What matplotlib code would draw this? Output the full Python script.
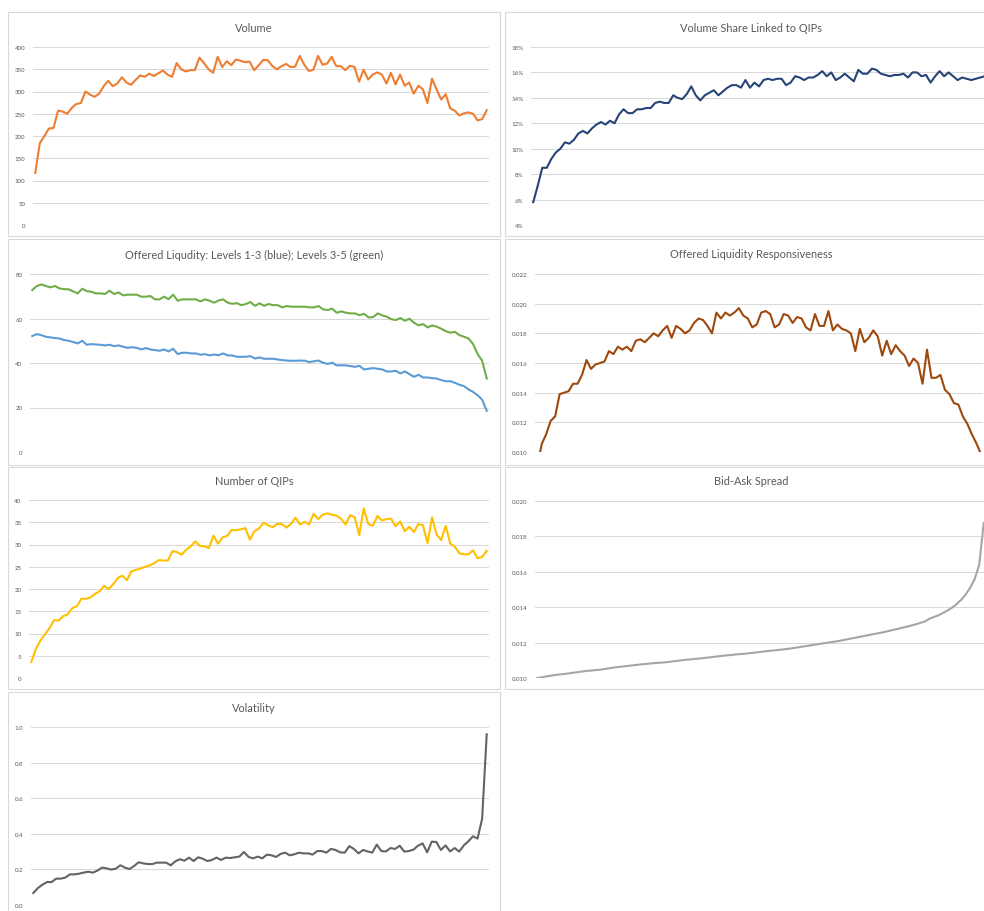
import numpy as np
import matplotlib
matplotlib.use("Agg")
import matplotlib.pyplot as plt
from matplotlib.patches import Rectangle
from matplotlib.ticker import FuncFormatter

plt.rcParams['font.family'] = ['Lato', 'DejaVu Sans']

# ---- data ----
volume = [117, 184, 200, 217, 218, 257, 255, 250, 263, 272,
          274, 300, 293, 288, 295, 312, 324, 312, 318, 332,
          320, 315, 326, 336, 333, 340, 335, 341, 347, 338,
          333, 364, 350, 345, 348, 348, 376, 364, 350, 342,
          378, 355, 368, 359, 372, 369, 366, 367, 348, 359,
          371, 370, 357, 350, 357, 362, 355, 356, 380, 360,
          346, 349, 380, 360, 363, 378, 357, 357, 348, 358,
          355, 322, 349, 327, 338, 343, 338, 318, 342, 316,
          338, 313, 320, 295, 313, 305, 274, 329, 305, 282,
          294, 262, 257, 246, 251, 253, 250, 235, 238, 258]

vol_share = [5.8, 7.1, 8.5, 8.5, 9.2, 9.7, 10.0, 10.5, 10.4, 10.7,
             11.2, 11.4, 11.2, 11.6, 11.9, 12.1, 11.9, 12.2, 12.0, 12.7,
             13.1, 12.8, 12.8, 13.1, 13.1, 13.2, 13.2, 13.6, 13.7, 13.6,
             13.6, 14.2, 14.0, 13.9, 14.3, 14.9, 14.2, 13.8, 14.2, 14.4,
             14.6, 14.2, 14.5, 14.8, 15.0, 15.0, 14.8, 15.4, 14.8, 15.2,
             14.9, 15.4, 15.5, 15.4, 15.5, 15.5, 15.0, 15.2, 15.7, 15.6,
             15.4, 15.6, 15.6, 15.8, 16.1, 15.7, 16.0, 15.4, 15.6, 15.9,
             15.6, 15.3, 16.2, 15.9, 15.9, 16.3, 16.2, 15.9, 15.8, 15.7,
             15.8, 15.8, 15.9, 15.6, 16.0, 16.0, 15.7, 15.8, 15.2, 15.7,
             16.1, 15.7, 16.0, 15.7, 15.4, 15.6, 15.5, 15.4, 15.5, 15.6, 15.7]

liq_blue = [52.1, 53.0, 52.5, 51.8, 51.5, 51.2, 51.0, 50.3, 50.0, 49.4,
            48.8, 50.0, 48.2, 48.5, 48.3, 48.2, 47.9, 48.2, 47.6, 47.9,
            47.3, 46.8, 47.1, 46.8, 46.1, 46.7, 46.1, 45.8, 45.5, 46.1,
            45.2, 46.4, 44.0, 44.6, 44.6, 44.3, 44.3, 43.7, 44.0, 43.4,
            43.8, 43.5, 44.3, 43.4, 43.4, 42.8, 42.8, 42.8, 43.1, 42.0,
            42.5, 41.9, 41.9, 41.9, 41.6, 41.3, 41.1, 41.0, 41.0, 41.1,
            41.0, 40.4, 40.8, 41.1, 40.1, 39.6, 40.1, 38.9, 39.0, 38.9,
            38.6, 38.3, 38.7, 37.1, 37.4, 37.7, 37.4, 37.1, 36.2, 36.2,
            36.5, 35.3, 36.2, 35.0, 33.8, 34.7, 33.5, 33.5, 33.2, 33.0,
            32.3, 31.8, 31.8, 31.1, 30.2, 29.6, 28.1, 27.0, 25.5, 23.5, 18.5]

liq_green = [72.8, 74.6, 75.3, 74.6, 74.0, 74.6, 73.5, 73.2, 73.1, 72.2,
             71.3, 73.4, 72.3, 72.0, 71.3, 71.3, 71.0, 72.5, 71.0, 71.7,
             70.4, 70.7, 70.7, 70.7, 69.8, 69.8, 70.1, 68.6, 68.6, 69.8,
             68.7, 70.7, 68.0, 68.6, 68.6, 68.6, 68.6, 67.7, 68.6, 68.0,
             67.1, 68.1, 68.6, 67.1, 66.6, 66.9, 66.0, 66.5, 67.4, 65.7,
             66.8, 65.7, 66.5, 66.0, 66.0, 65.0, 65.6, 65.3, 65.3, 65.3,
             65.3, 65.0, 65.0, 65.6, 64.1, 63.8, 64.4, 62.6, 63.2, 62.6,
             62.3, 62.3, 61.5, 62.1, 60.5, 60.6, 62.3, 61.4, 60.8, 59.7,
             59.3, 60.2, 59.0, 59.9, 58.1, 56.9, 57.5, 56.0, 56.9, 56.3,
             55.4, 54.3, 53.6, 54.0, 52.5, 51.8, 51.0, 48.5, 44.0, 41.0, 33.0]

# thousandths
responsiveness = [9.0, 10.54, 11.2, 12.1, 12.4, 13.9, 14.0, 14.1, 14.6, 14.6,
                  15.2, 16.2, 15.6, 15.9, 16.0, 16.1, 16.8, 16.6, 17.1, 16.9,
                  17.1, 16.8, 17.5, 17.6, 17.4, 17.7, 18.0, 17.8, 18.2, 18.5,
                  17.7, 18.5, 18.3, 18.0, 18.2, 18.7, 19.0, 18.9, 18.5, 18.0,
                  19.4, 19.0, 19.4, 19.2, 19.4, 19.7, 19.2, 19.0, 18.4, 18.6,
                  19.4, 19.5, 19.3, 18.4, 18.6, 19.3, 19.2, 18.7, 19.1, 19.0,
                  18.4, 18.2, 19.3, 18.5, 18.5, 19.5, 18.2, 18.6, 18.3, 18.2,
                  18.0, 16.8, 18.3, 17.4, 17.7, 18.2, 17.8, 16.5, 17.5, 16.6,
                  17.2, 16.8, 16.5, 15.8, 16.3, 16.0, 14.6, 16.9, 15.0, 15.0,
                  15.2, 14.2, 13.9, 13.3, 13.2, 12.4, 11.9, 11.2, 10.6, 9.9]

n_qips = [3.6, 6.5, 8.4, 9.8, 11.2, 13.0, 12.9, 13.9, 14.3, 15.7,
          16.1, 17.8, 17.8, 18.1, 18.9, 19.5, 20.7, 20.0, 21.1, 22.5,
          23.0, 22.0, 24.0, 24.3, 24.6, 25.0, 25.3, 25.8, 26.5, 26.4,
          26.4, 28.5, 28.3, 27.7, 28.8, 29.6, 30.7, 29.7, 29.6, 29.2,
          32.0, 30.2, 31.6, 31.9, 33.3, 33.2, 33.4, 33.7, 31.1, 33.0,
          33.6, 34.9, 34.3, 33.9, 34.6, 34.6, 33.8, 34.6, 36.0, 34.5,
          35.1, 34.5, 36.9, 35.7, 36.7, 37.0, 36.7, 36.5, 35.8, 34.5,
          36.6, 36.1, 32.1, 38.1, 34.6, 34.2, 36.4, 35.4, 35.7, 35.8,
          34.1, 35.2, 33.0, 34.0, 32.8, 34.6, 34.3, 30.3, 36.1, 32.2,
          31.0, 34.2, 30.2, 29.5, 28.0, 27.8, 27.8, 28.7, 26.9, 27.2, 28.6]

# thousandths
spread = [10.00, 10.04, 10.09, 10.13, 10.17, 10.20, 10.23, 10.26, 10.30, 10.33,
          10.37, 10.40, 10.42, 10.45, 10.47, 10.51, 10.55, 10.59, 10.62, 10.65,
          10.68, 10.71, 10.74, 10.77, 10.79, 10.82, 10.84, 10.86, 10.88, 10.90,
          10.94, 10.97, 11.00, 11.03, 11.05, 11.08, 11.10, 11.13, 11.16, 11.19,
          11.22, 11.25, 11.28, 11.30, 11.33, 11.35, 11.37, 11.40, 11.43, 11.46,
          11.49, 11.52, 11.55, 11.57, 11.60, 11.63, 11.66, 11.70, 11.74, 11.78,
          11.82, 11.86, 11.90, 11.94, 11.98, 12.02, 12.06, 12.10, 12.15, 12.20,
          12.25, 12.30, 12.35, 12.40, 12.45, 12.50, 12.55, 12.60, 12.66, 12.72,
          12.78, 12.84, 12.90, 12.97, 13.04, 13.12, 13.20, 13.35, 13.45, 13.55,
          13.68, 13.82, 13.98, 14.18, 14.42, 14.72, 15.10, 15.60, 16.40, 18.75]

volatility = [0.067, 0.095, 0.114, 0.129, 0.129, 0.148, 0.148, 0.154, 0.172, 0.172,
              0.176, 0.182, 0.187, 0.182, 0.193, 0.210, 0.206, 0.199, 0.204, 0.223,
              0.210, 0.202, 0.219, 0.240, 0.234, 0.230, 0.230, 0.238, 0.238, 0.238,
              0.223, 0.245, 0.257, 0.249, 0.266, 0.247, 0.268, 0.260, 0.247, 0.253,
              0.266, 0.253, 0.266, 0.264, 0.268, 0.272, 0.298, 0.270, 0.262, 0.272,
              0.262, 0.283, 0.279, 0.270, 0.287, 0.294, 0.279, 0.285, 0.294, 0.290,
              0.290, 0.283, 0.303, 0.303, 0.294, 0.315, 0.309, 0.296, 0.294, 0.331,
              0.315, 0.290, 0.309, 0.301, 0.294, 0.339, 0.303, 0.301, 0.320, 0.315,
              0.333, 0.300, 0.303, 0.311, 0.333, 0.346, 0.296, 0.356, 0.354, 0.309,
              0.335, 0.301, 0.320, 0.300, 0.335, 0.358, 0.386, 0.373, 0.485, 0.959]

W, H = 984, 912
fig = plt.figure(figsize=(W / 100, H / 100), dpi=100)

GRID = '#d9d9d9'
TXT = '#595959'


def rect(x0, y0, x1, y1):
    # pixel box (top-left origin) -> figure fraction
    return [x0 / W, 1 - y1 / H, (x1 - x0) / W, (y1 - y0) / H]


def panel(frame, plot, title, title_y, ylim, step, fmt, pad=5.5):
    fx0, fy0, fx1, fy1 = frame
    fig.patches.append(Rectangle((fx0 / W, 1 - fy1 / H), (fx1 - fx0) / W, (fy1 - fy0) / H,
                                 transform=fig.transFigure, fill=False,
                                 edgecolor=GRID, linewidth=0.8))
    fig.text((fx0 + fx1) / 2 / W, 1 - title_y / H, title, ha='center', va='center',
             fontsize=7.9, color=TXT)
    ax = fig.add_axes(rect(*plot))
    ax.set_facecolor('none')
    ax.set_ylim(*ylim)
    ax.set_yticks(np.arange(ylim[0], ylim[1] + step / 2, step))
    ax.yaxis.set_major_formatter(FuncFormatter(fmt))
    ax.tick_params(axis='y', length=0, pad=pad, labelsize=4.4, labelcolor=TXT)
    ax.set_xticks([])
    for s in ax.spines.values():
        s.set_visible(False)
    ax.grid(axis='y', color=GRID, linewidth=0.75)
    ax.set_axisbelow(True)
    return ax


def draw(ax, values, color):
    x = np.arange(len(values))
    ax.plot(x, values, color=color, linewidth=1.5, solid_joinstyle='round')
    ax.set_xlim(-0.5, len(values) - 0.5)


ax1 = panel((8, 13, 500, 237), (33, 48, 489, 226), 'Volume', 29, (0, 400), 50,
            lambda v, p: '%d' % v)
draw(ax1, volume, '#ED7D31')

ax2 = panel((505, 13, 997, 237), (531, 48, 987, 226), 'Volume Share Linked to QIPs', 29,
            (4, 18), 2, lambda v, p: '%d%%' % round(v))
draw(ax2, vol_share, '#264478')

ax3 = panel((8, 240, 500, 466), (30, 275, 489, 453),
            'Offered Liqudity: Levels 1-3 (blue); Levels 3-5 (green)', 255,
            (0, 80), 20, lambda v, p: '%d' % v)
draw(ax3, liq_blue, '#5B9BD5')
draw(ax3, liq_green, '#70AD47')

ax4 = panel((505, 240, 997, 466), (535, 275, 983, 453), 'Offered Liquidity Responsiveness', 255,
            (0.010, 0.022), 0.002, lambda v, p: '%.3f' % v)
draw(ax4, np.array(responsiveness) / 1000, '#9E480E')

ax5 = panel((8, 468, 500, 690), (29, 501, 489, 679), 'Number of QIPs', 482,
            (0, 40), 5, lambda v, p: '%d' % v)
draw(ax5, n_qips, '#FFC000')

ax6 = panel((505, 468, 997, 690), (535, 502, 986, 679), 'Bid-Ask Spread', 482,
            (0.010, 0.020), 0.002, lambda v, p: '%.3f' % v)
draw(ax6, np.array(spread) / 1000, '#A5A5A5')

ax7 = panel((8, 693, 500, 930), (31, 728, 489, 906), 'Volatility', 709,
            (0, 1.0), 0.2, lambda v, p: '%.1f' % v)
draw(ax7, volatility, '#636363')

fig.savefig('out.png', dpi=100, facecolor='white')
